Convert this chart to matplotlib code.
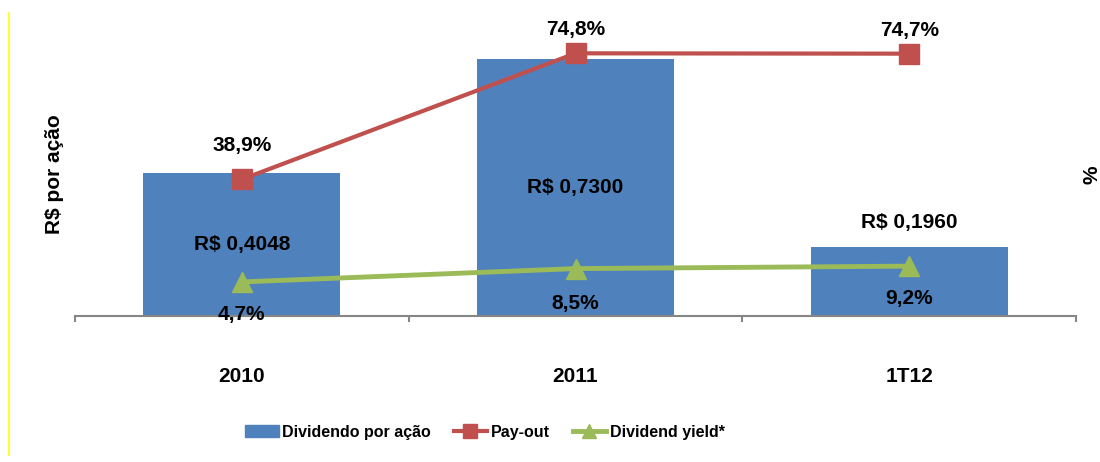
import matplotlib
matplotlib.use('Agg')
import matplotlib.pyplot as plt
from matplotlib import font_manager
from matplotlib.patches import Patch
from matplotlib.lines import Line2D

# ---- data ----
categories = ['2010', '2011', '1T12']
dividendo = [0.4048, 0.7300, 0.1960]
dividendo_labels = ['R$ 0,4048', 'R$ 0,7300', 'R$ 0,1960']
payout = [38.9, 74.8, 74.7]
payout_labels = ['38,9%', '74,8%', '74,7%']
dy = [4.7, 8.5, 9.2]
dy_labels = ['4,7%', '8,5%', '9,2%']

plt.rcParams['font.family'] = ['Liberation Sans', 'DejaVu Sans']
plt.rcParams['font.weight'] = 'bold'

names = {f.name for f in font_manager.fontManager.ttflist}
if 'Liberation Sans Narrow' in names:
    leg_font = dict(family=['Liberation Sans Narrow', 'DejaVu Sans'], size=13.5, weight='bold')
else:
    leg_font = dict(family=['Liberation Sans', 'DejaVu Sans'], size=11.5, weight='bold')

BLUE = '#4F81BD'
RED = '#C0504D'
GREEN = '#9BBB59'
GRAY = '#868686'

W, H = 1100, 462
fig = plt.figure(figsize=(W / 100, H / 100), dpi=100)
ax = fig.add_axes([75 / W, 146 / H, 1001 / W, 282 / H])

x = list(range(len(categories)))
bars = ax.bar(x, dividendo, width=0.59, color=BLUE, zorder=1)
ax.set_xlim(-0.5, len(categories) - 0.5)
ax.set_ylim(0, 0.8)
ax.set_yticks([])
for s in ['top', 'left', 'right']:
    ax.spines[s].set_visible(False)
ax.spines['bottom'].set_color(GRAY)
ax.spines['bottom'].set_linewidth(1.5)
ax.set_xticks(x, categories)
ax.set_xticks([i - 0.5 for i in range(len(categories) + 1)], minor=True)
ax.tick_params(axis='x', which='major', length=0, pad=37, labelsize=15)
ax.tick_params(axis='x', which='minor', length=4.5, width=1.5, color=GRAY, direction='out')
for t in ax.get_xticklabels():
    t.set_fontweight('bold')

# bar labels
bar_pos = ['center', 'center', 'outside']
for i, (v, lab, pos) in enumerate(zip(dividendo, dividendo_labels, bar_pos)):
    if pos == 'center':
        ax.text(i, v / 2, lab, ha='center', va='center', fontsize=15, fontweight='bold', zorder=5)
    else:
        ax.annotate(lab, (i, v), xytext=(0, 24 * 0.72), textcoords='offset points',
                    ha='center', va='center', fontsize=15, fontweight='bold')

# pay-out axis
ax2 = ax.twinx()
ax2.set_ylim(0, 80.3)
ax2.axis('off')
ax2.plot(x, payout, color=RED, lw=3, marker='s', ms=14, mec=RED, mfc=RED, zorder=3)
pay_off = [34, 23.5, 23]
for i, (v, lab, o) in enumerate(zip(payout, payout_labels, pay_off)):
    ax2.annotate(lab, (i, v), xytext=(0, o * 0.72), textcoords='offset points',
                 ha='center', va='center', fontsize=15, fontweight='bold')

# dividend yield axis
ax3 = ax.twinx()
ax3.set_ylim(-5.0, 75.3)
ax3.axis('off')
ax3.plot(x, dy, color=GREEN, lw=3.5, marker='^', ms=15, mec=GREEN, mfc=GREEN, zorder=3)
dy_off = [33, 34.5, 32.5]
for i, (v, lab, o) in enumerate(zip(dy, dy_labels, dy_off)):
    ax3.annotate(lab, (i, v), xytext=(0, -o * 0.72), textcoords='offset points',
                 ha='center', va='center', fontsize=15, fontweight='bold')

# axis titles
fig.text(54 / W, 1 - 174 / H, 'R$ por ação', rotation=90, ha='center', va='center',
         fontsize=15, fontweight='bold')
fig.text(1092 / W, 1 - 175 / H, '%', rotation=90, ha='center', va='center',
         fontsize=15, fontweight='bold')

# legend
handles = [
    Patch(facecolor=BLUE, edgecolor=BLUE),
    Line2D([], [], color=RED, lw=3, marker='s', ms=10, mfc=RED, mec=RED),
    Line2D([], [], color=GREEN, lw=3.5, marker='^', ms=10, mfc=GREEN, mec=GREEN),
]
leg = fig.legend(handles, ['Dividendo por ação', 'Pay-out', 'Dividend yield*'],
                 loc='center', bbox_to_anchor=(485 / W, 1 - 432 / H), ncol=3,
                 frameon=False, prop=leg_font, handlelength=2.1, handleheight=0.7,
                 handletextpad=0.25, columnspacing=1.4, borderpad=0)

# yellow left border line
fig.add_artist(Line2D([8.5 / W, 8.5 / W], [1 - 13 / H, 1 - 455 / H], color='#FFFF00',
                      lw=1.2, transform=fig.transFigure))

fig.savefig('out.png', dpi=100)
